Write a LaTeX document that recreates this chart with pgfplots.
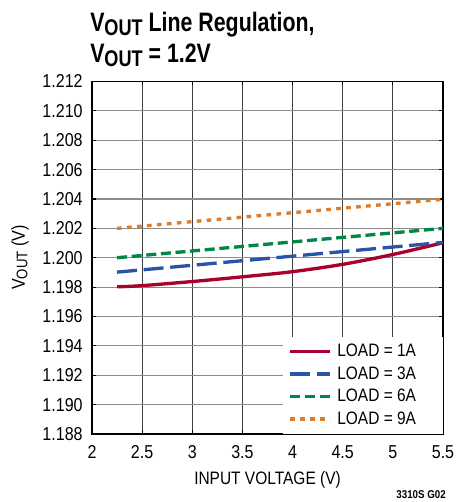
\documentclass[border=0pt]{standalone}
\usepackage{fontspec}
\setmainfont{Liberation Sans}[FakeStretch=0.86]
\newfontfamily\titlefont{Liberation Sans}[FakeStretch=0.8]
\usepackage{pgfplots}
\pgfplotsset{compat=1.18}
\definecolor{cA}{RGB}{170,0,45}
\definecolor{cB}{RGB}{40,85,170}
\definecolor{cC}{RGB}{0,135,70}
\definecolor{cD}{RGB}{220,125,45}
\begin{document}
\begin{tikzpicture}[x=1pt,y=1pt]
\useasboundingbox (-69,-51) rectangle (273.75,325.5);
\begin{axis}[at={(0,0)}, anchor=south west, scale only axis,
  width=263.25pt, height=264.4pt,
  xmin=2, xmax=5.5, ymin=1.188, ymax=1.212,
  xtick={2,2.5,3,3.5,4,4.5,5,5.5},
  ytick={1.188,1.190,1.192,1.194,1.196,1.198,1.200,1.202,1.204,1.206,1.208,1.210,1.212},
  scaled ticks=false,
  /pgf/number format/assume math mode=true,
  yticklabel style={xshift=-3.5pt, /pgf/number format/fixed, /pgf/number format/fixed zerofill, /pgf/number format/precision=3},
  tick label style={font=\fontsize{14}{14}\selectfont},
  xticklabel style={yshift=-5pt},
  grid=major,
  x grid style={black!75, line width=0.9pt},
  y grid style={black!45, line width=0.9pt},
  tick align=inside, major tick length=3pt,
  tick style={black, line width=0.8pt},
  axis line style={black, line width=1.1pt},
  xlabel={INPUT VOLTAGE (V)},
  xlabel style={at={(axis description cs:0.5,0)}, anchor=base, yshift=-37.5pt, font=\fontsize{13.5}{13.5}\selectfont},
  ylabel={V\raisebox{-2pt}{\fontsize{11.5}{11.5}\selectfont OUT} (V)},
  ylabel style={at={(axis description cs:0,0.5)}, anchor=center, yshift=54pt, font=\fontsize{14}{14}\selectfont},
  legend style={at={(1,0)}, anchor=south east, draw=none, fill=white,
    inner xsep=4pt, inner ysep=4pt, row sep=3pt,
    nodes={inner ysep=1.5pt, inner xsep=4pt},
    font=\fontsize{13.5}{13.5}\selectfont},
  legend cell align=left,
  legend image code/.code={\draw[#1] (0pt,0pt) -- (30pt,0pt);},
]
\addplot[cA, line width=2.5pt, smooth] coordinates {
 (2.25,1.19802) (2.5,1.19810) (3,1.19838) (3.5,1.19870) (4,1.19905) (4.5,1.19955) (5,1.20022) (5.5,1.20102)};
\addlegendentry{LOAD = 1A\hspace*{12pt}}
\addplot[cB, line width=2.5pt, dash pattern=on 15pt off 5pt] coordinates {
 (2.25,1.19902) (5.5,1.20104)};
\addlegendentry{LOAD = 3A\hspace*{12pt}}
\addplot[cC, line width=2.5pt, dash pattern=on 7.5pt off 3.5pt] coordinates {
 (2.25,1.20000) (5.5,1.20200)};
\addlegendentry{LOAD = 6A\hspace*{12pt}}
\addplot[cD, line width=2.5pt, dash pattern=on 3.5pt off 4pt] coordinates {
 (2.25,1.20200) (5.5,1.20398)};
\addlegendentry{LOAD = 9A\hspace*{12pt}}
\end{axis}
\node[anchor=base west, inner sep=0pt, font=\titlefont\bfseries\fontsize{20}{20}\selectfont] at (-1.5,301.5)
  {V\raisebox{-3pt}{\fontsize{17}{17}\selectfont OUT} Line Regulation,};
\node[anchor=base west, inner sep=0pt, font=\titlefont\bfseries\fontsize{20}{20}\selectfont] at (-1.5,278.25)
  {V\raisebox{-3pt}{\fontsize{17}{17}\selectfont OUT} = 1.2V};
\node[anchor=base east, inner sep=0pt, font=\bfseries\fontsize{8.5}{8.5}\selectfont] at (265.5,-48)
  {3310S G02};
\end{tikzpicture}
\end{document}
